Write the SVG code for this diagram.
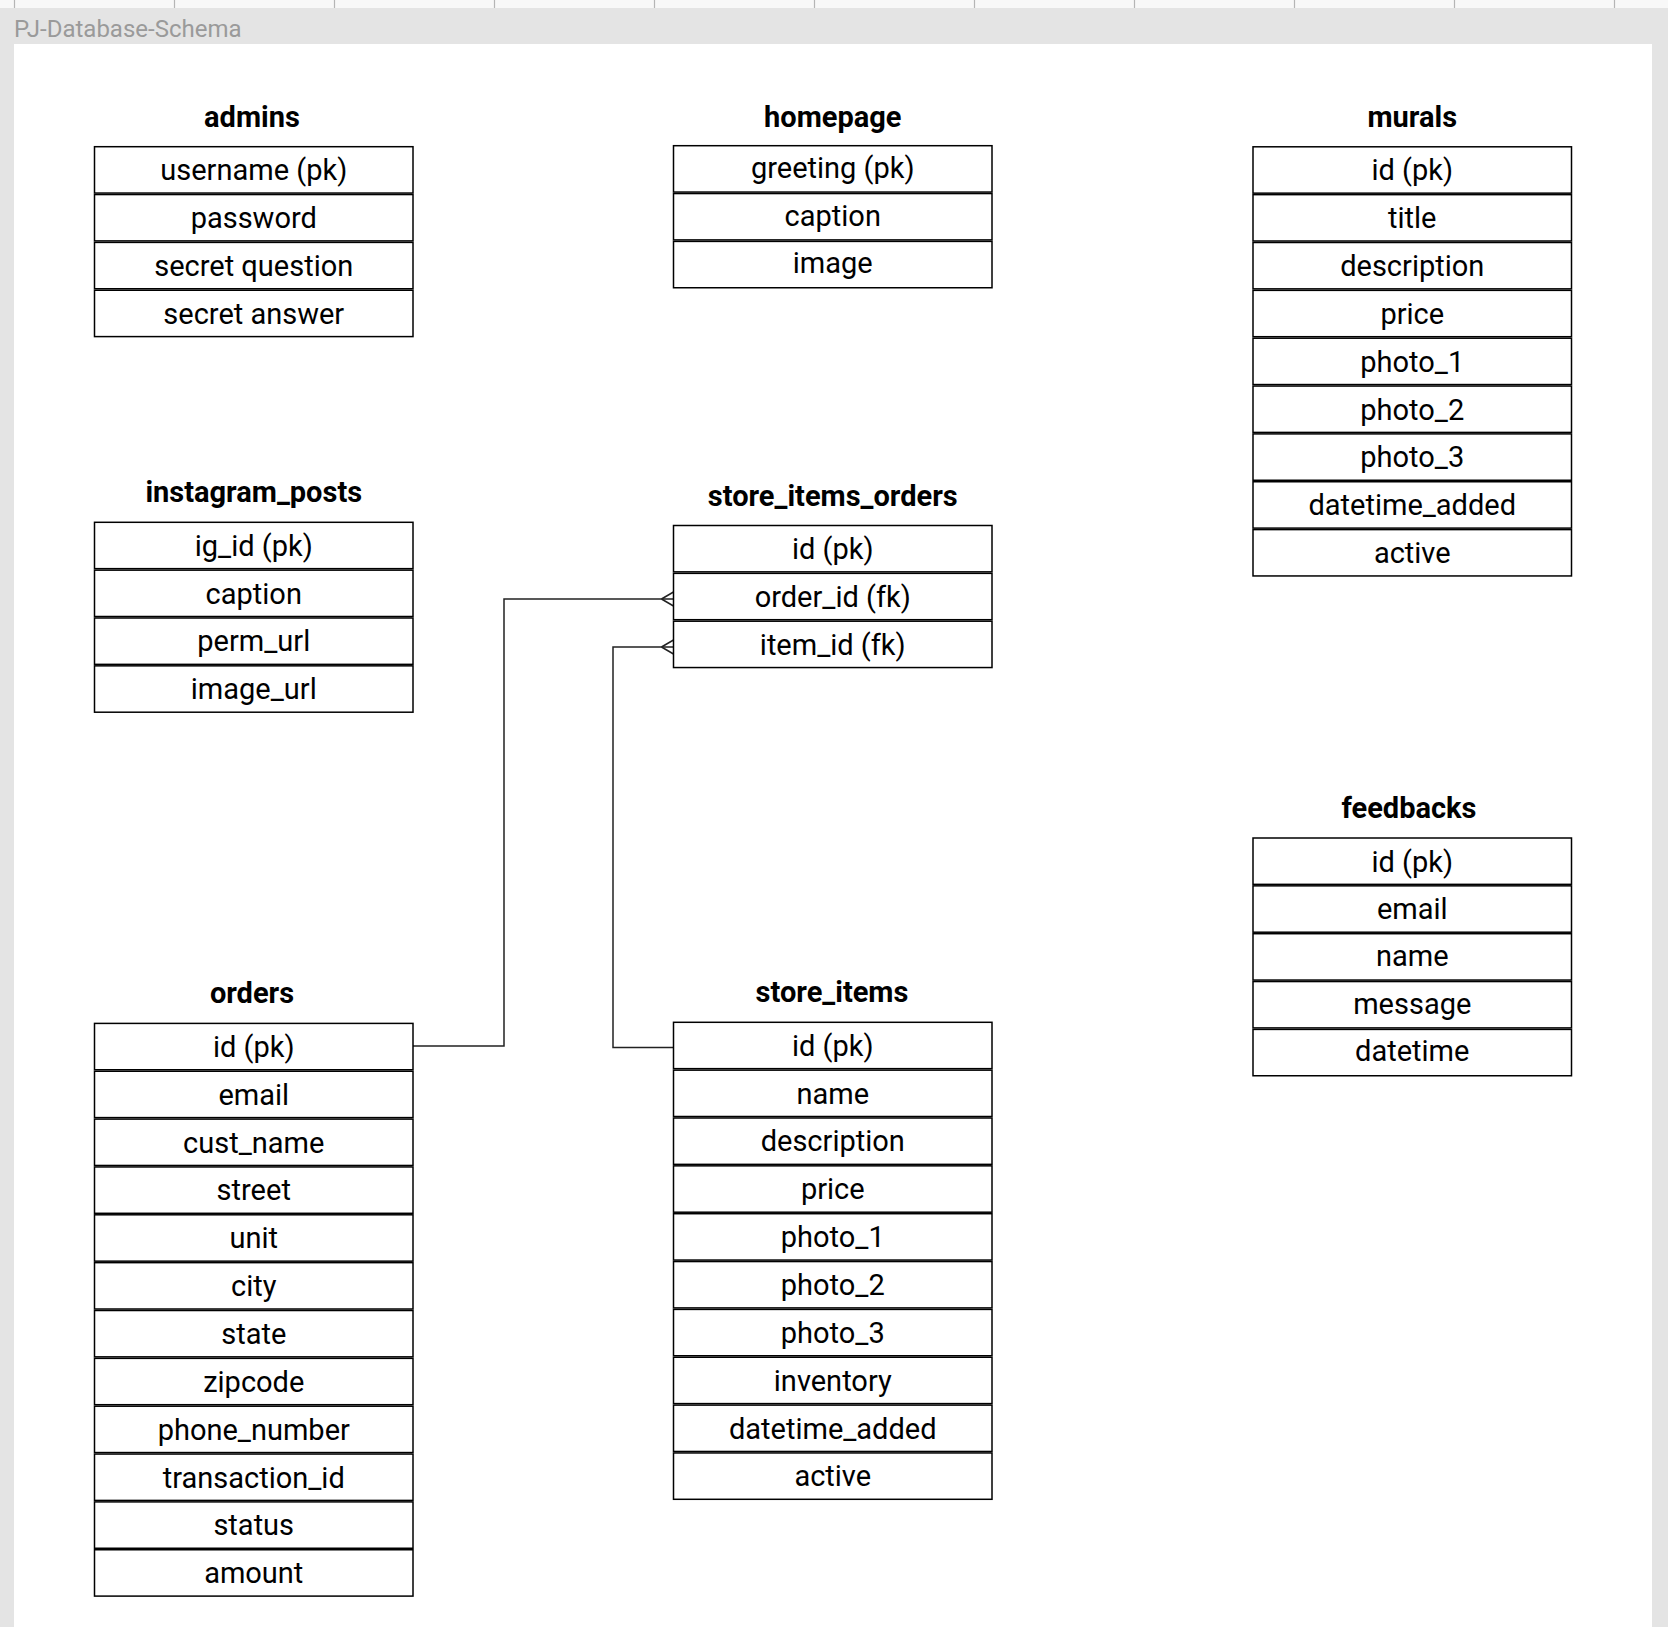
<svg xmlns="http://www.w3.org/2000/svg" width="1668" height="1627" viewBox="0 0 1668 1627">
<style>
.cell{fill:#fff;stroke:#000;stroke-width:1.5}
.t{font-family:Roboto,"Liberation Sans",sans-serif;font-size:29px;fill:#000;text-anchor:middle}
.h{font-family:Roboto,"Liberation Sans",sans-serif;font-size:29px;font-weight:bold;fill:#000;text-anchor:middle}
.conn{fill:none;stroke:#222;stroke-width:1.5}
.tick{stroke:#b5b5b5;stroke-width:1.2}
</style>
<defs>
<marker id="crow" markerUnits="userSpaceOnUse" markerWidth="14" markerHeight="18" refX="12.5" refY="9" orient="auto" viewBox="0 0 14 18">
<path d="M0.5,9 L12.5,2 M0.5,9 L12.5,16" fill="none" stroke="#222" stroke-width="1.5"/>
</marker>
</defs>
<rect x="0" y="0" width="1668" height="1627" fill="#e4e4e4"/>
<rect x="0" y="0" width="1668" height="8" fill="#f8f8f8"/>
<g id="ruler">
<line class="tick" x1="14.5" y1="0" x2="14.5" y2="8"/>
<line class="tick" x1="174.5" y1="0" x2="174.5" y2="8"/>
<line class="tick" x1="334.5" y1="0" x2="334.5" y2="8"/>
<line class="tick" x1="494.5" y1="0" x2="494.5" y2="8"/>
<line class="tick" x1="654.5" y1="0" x2="654.5" y2="8"/>
<line class="tick" x1="814.5" y1="0" x2="814.5" y2="8"/>
<line class="tick" x1="974.5" y1="0" x2="974.5" y2="8"/>
<line class="tick" x1="1134.5" y1="0" x2="1134.5" y2="8"/>
<line class="tick" x1="1294.5" y1="0" x2="1294.5" y2="8"/>
<line class="tick" x1="1454.5" y1="0" x2="1454.5" y2="8"/>
<line class="tick" x1="1614.5" y1="0" x2="1614.5" y2="8"/>
</g>
<text x="14" y="36.5" font-family="Roboto,'Liberation Sans',sans-serif" font-size="24" fill="#9a9a9a">PJ-Database-Schema</text>
<rect x="14" y="44" width="1638" height="1583" fill="#fff"/>

<g id="connectors">
<path class="conn" d="M413,1046 H504 V599 H673.5" marker-end="url(#crow)"/>
<path class="conn" d="M673.5,1047.5 H613 V647 H673.5" marker-end="url(#crow)"/>
</g>

<g id="admins" transform="translate(94.5,146.7)">
<text class="h" x="157.5" y="-20">admins</text>
<rect class="cell" x="0" y="0" width="318.5" height="46.35"/>
<rect class="cell" x="0" y="47.85" width="318.5" height="46.35"/>
<rect class="cell" x="0" y="95.7" width="318.5" height="46.35"/>
<rect class="cell" x="0" y="143.55" width="318.5" height="46.35"/>
<text class="t" x="159.25" y="33.5">username (pk)</text>
<text class="t" x="159.25" y="81.35">password</text>
<text class="t" x="159.25" y="129.2">secret question</text>
<text class="t" x="159.25" y="177.05">secret answer</text>
</g>

<g id="homepage" transform="translate(673.5,145.7)">
<text class="h" x="159.25" y="-19">homepage</text>
<rect class="cell" x="0" y="0" width="318.5" height="46.35"/>
<rect class="cell" x="0" y="47.85" width="318.5" height="46.35"/>
<rect class="cell" x="0" y="95.7" width="318.5" height="46.35"/>
<text class="t" x="159.25" y="32">greeting (pk)</text>
<text class="t" x="159.25" y="79.85">caption</text>
<text class="t" x="159.25" y="127.7">image</text>
</g>

<g id="murals" transform="translate(1253,146.8)">
<text class="h" x="159.25" y="-20">murals</text>
<rect class="cell" x="0" y="0" width="318.5" height="46.35"/>
<rect class="cell" x="0" y="47.85" width="318.5" height="46.35"/>
<rect class="cell" x="0" y="95.7" width="318.5" height="46.35"/>
<rect class="cell" x="0" y="143.55" width="318.5" height="46.35"/>
<rect class="cell" x="0" y="191.4" width="318.5" height="46.35"/>
<rect class="cell" x="0" y="239.25" width="318.5" height="46.35"/>
<rect class="cell" x="0" y="287.1" width="318.5" height="46.35"/>
<rect class="cell" x="0" y="334.95" width="318.5" height="46.35"/>
<rect class="cell" x="0" y="382.8" width="318.5" height="46.35"/>
<text class="t" x="159.25" y="33.5">id (pk)</text>
<text class="t" x="159.25" y="81.35">title</text>
<text class="t" x="159.25" y="129.2">description</text>
<text class="t" x="159.25" y="177.05">price</text>
<text class="t" x="159.25" y="224.9">photo_1</text>
<text class="t" x="159.25" y="272.75">photo_2</text>
<text class="t" x="159.25" y="320.6">photo_3</text>
<text class="t" x="159.25" y="368.45">datetime_added</text>
<text class="t" x="159.25" y="416.3">active</text>
</g>

<g id="instagram_posts" transform="translate(94.5,522.3)">
<text class="h" x="159.25" y="-20.5">instagram_posts</text>
<rect class="cell" x="0" y="0" width="318.5" height="46.35"/>
<rect class="cell" x="0" y="47.85" width="318.5" height="46.35"/>
<rect class="cell" x="0" y="95.7" width="318.5" height="46.35"/>
<rect class="cell" x="0" y="143.55" width="318.5" height="46.35"/>
<text class="t" x="159.25" y="33.5">ig_id (pk)</text>
<text class="t" x="159.25" y="81.35">caption</text>
<text class="t" x="159.25" y="129.2">perm_url</text>
<text class="t" x="159.25" y="177.05">image_url</text>
</g>

<g id="store_items_orders" transform="translate(673.5,525.5)">
<text class="h" x="159.25" y="-20">store_items_orders</text>
<rect class="cell" x="0" y="0" width="318.5" height="46.35"/>
<rect class="cell" x="0" y="47.85" width="318.5" height="46.35"/>
<rect class="cell" x="0" y="95.7" width="318.5" height="46.35"/>
<text class="t" x="159.25" y="33.5">id (pk)</text>
<text class="t" x="159.25" y="81.35">order_id (fk)</text>
<text class="t" x="159.25" y="129.2">item_id (fk)</text>
</g>

<g id="feedbacks" transform="translate(1253,838)">
<text class="h" x="156" y="-20">feedbacks</text>
<rect class="cell" x="0" y="0" width="318.5" height="46.35"/>
<rect class="cell" x="0" y="47.85" width="318.5" height="46.35"/>
<rect class="cell" x="0" y="95.7" width="318.5" height="46.35"/>
<rect class="cell" x="0" y="143.55" width="318.5" height="46.35"/>
<rect class="cell" x="0" y="191.4" width="318.5" height="46.35"/>
<text class="t" x="159.25" y="33.5">id (pk)</text>
<text class="t" x="159.25" y="80.85">email</text>
<text class="t" x="159.25" y="128.2">name</text>
<text class="t" x="159.25" y="175.55">message</text>
<text class="t" x="159.25" y="222.9">datetime</text>
</g>

<g id="orders" transform="translate(94.5,1023.4)">
<text class="h" x="157.5" y="-20">orders</text>
<rect class="cell" x="0" y="0" width="318.5" height="46.35"/>
<rect class="cell" x="0" y="47.85" width="318.5" height="46.35"/>
<rect class="cell" x="0" y="95.7" width="318.5" height="46.35"/>
<rect class="cell" x="0" y="143.55" width="318.5" height="46.35"/>
<rect class="cell" x="0" y="191.4" width="318.5" height="46.35"/>
<rect class="cell" x="0" y="239.25" width="318.5" height="46.35"/>
<rect class="cell" x="0" y="287.1" width="318.5" height="46.35"/>
<rect class="cell" x="0" y="334.95" width="318.5" height="46.35"/>
<rect class="cell" x="0" y="382.8" width="318.5" height="46.35"/>
<rect class="cell" x="0" y="430.65" width="318.5" height="46.35"/>
<rect class="cell" x="0" y="478.5" width="318.5" height="46.35"/>
<rect class="cell" x="0" y="526.35" width="318.5" height="46.35"/>
<text class="t" x="159.25" y="33.5">id (pk)</text>
<text class="t" x="159.25" y="81.35">email</text>
<text class="t" x="159.25" y="129.2">cust_name</text>
<text class="t" x="159.25" y="177.05">street</text>
<text class="t" x="159.25" y="224.9">unit</text>
<text class="t" x="159.25" y="272.75">city</text>
<text class="t" x="159.25" y="320.6">state</text>
<text class="t" x="159.25" y="368.45">zipcode</text>
<text class="t" x="159.25" y="416.3">phone_number</text>
<text class="t" x="159.25" y="464.15">transaction_id</text>
<text class="t" x="159.25" y="512">status</text>
<text class="t" x="159.25" y="559.85">amount</text>
</g>

<g id="store_items" transform="translate(673.5,1022.3)">
<text class="h" x="158.5" y="-20">store_items</text>
<rect class="cell" x="0" y="0" width="318.5" height="46.35"/>
<rect class="cell" x="0" y="47.85" width="318.5" height="46.35"/>
<rect class="cell" x="0" y="95.7" width="318.5" height="46.35"/>
<rect class="cell" x="0" y="143.55" width="318.5" height="46.35"/>
<rect class="cell" x="0" y="191.4" width="318.5" height="46.35"/>
<rect class="cell" x="0" y="239.25" width="318.5" height="46.35"/>
<rect class="cell" x="0" y="287.1" width="318.5" height="46.35"/>
<rect class="cell" x="0" y="334.95" width="318.5" height="46.35"/>
<rect class="cell" x="0" y="382.8" width="318.5" height="46.35"/>
<rect class="cell" x="0" y="430.65" width="318.5" height="46.35"/>
<text class="t" x="159.25" y="33.5">id (pk)</text>
<text class="t" x="159.25" y="81.35">name</text>
<text class="t" x="159.25" y="129.2">description</text>
<text class="t" x="159.25" y="177.05">price</text>
<text class="t" x="159.25" y="224.9">photo_1</text>
<text class="t" x="159.25" y="272.75">photo_2</text>
<text class="t" x="159.25" y="320.6">photo_3</text>
<text class="t" x="159.25" y="368.45">inventory</text>
<text class="t" x="159.25" y="416.3">datetime_added</text>
<text class="t" x="159.25" y="464.15">active</text>
</g>
</svg>
